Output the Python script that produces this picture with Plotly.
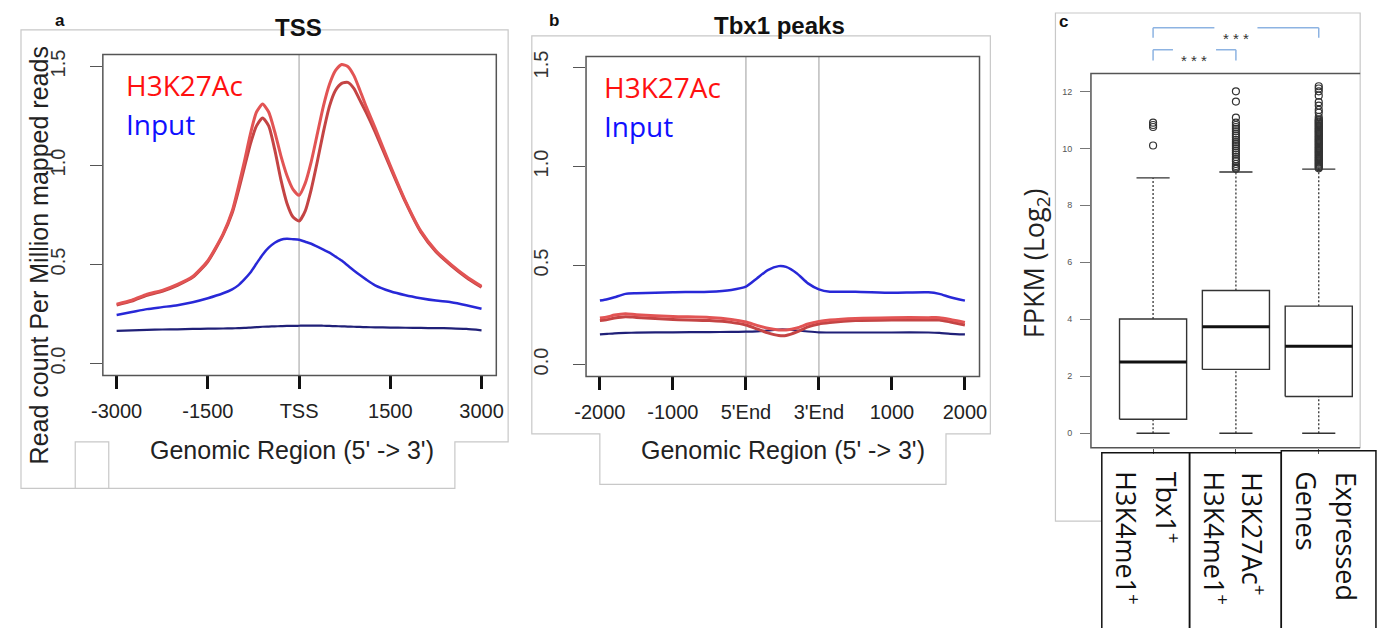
import plotly.graph_objects as go

# page body keeps its default 8px margin, so the figure is 16px smaller than the window
OFF = 8
FW, FH = 1387 - 2 * OFF, 636 - 2 * OFF


def X(px):
    return (px - OFF) / FW


def Y(py):
    return 1 - (py - OFF) / FH


# ---------------- Panel a : TSS ----------------
tss_x = [-3000, -2750, -2500, -2250, -2000, -1750, -1500, -1250, -1100, -1000,
         -900, -800, -700, -600, -500, -400, -300, -200, -100, 0,
         100, 200, 300, 400, 500, 600, 700, 800, 900, 1000,
         1100, 1250, 1500, 1750, 2000, 2250, 2500, 2750, 3000]
tss_h3k27ac_rep1 = [0.30, 0.32, 0.35, 0.37, 0.40, 0.44, 0.52, 0.655, 0.77, 0.89,
                    1.02, 1.16, 1.27, 1.31, 1.27, 1.17, 1.05, 0.95, 0.88, 0.85,
                    0.91, 1.02, 1.16, 1.30, 1.41, 1.48, 1.51, 1.50, 1.455, 1.38,
                    1.30, 1.19, 1.00, 0.82, 0.67, 0.57, 0.50, 0.44, 0.39]
tss_h3k27ac_rep2 = [0.295, 0.315, 0.345, 0.365, 0.395, 0.435, 0.515, 0.65, 0.76, 0.87,
                    0.99, 1.11, 1.20, 1.24, 1.20, 1.08, 0.93, 0.81, 0.74, 0.72,
                    0.77, 0.88, 1.02, 1.17, 1.30, 1.38, 1.415, 1.42, 1.39, 1.33,
                    1.27, 1.17, 0.99, 0.815, 0.665, 0.565, 0.495, 0.435, 0.385]
tss_input_rep1 = [0.245, 0.26, 0.275, 0.285, 0.295, 0.31, 0.33, 0.355, 0.375, 0.395,
                  0.425, 0.46, 0.505, 0.55, 0.585, 0.61, 0.625, 0.63, 0.628, 0.625,
                  0.615, 0.605, 0.59, 0.575, 0.56, 0.54, 0.52, 0.495, 0.47, 0.447,
                  0.425, 0.395, 0.365, 0.345, 0.33, 0.318, 0.31, 0.295, 0.277]
tss_input_rep2 = [0.165, 0.168, 0.17, 0.172, 0.173, 0.175, 0.176, 0.177, 0.178, 0.179,
                  0.18, 0.182, 0.184, 0.186, 0.187, 0.188, 0.189, 0.19, 0.19, 0.191,
                  0.192, 0.192, 0.192, 0.191, 0.19, 0.189, 0.188, 0.187, 0.186, 0.185,
                  0.184, 0.183, 0.182, 0.181, 0.18, 0.179, 0.178, 0.175, 0.168]
tss_tickvals = [-3000, -1500, 0, 1500, 3000]
tss_ticktext = ["-3000", "-1500", "TSS", "1500", "3000"]

# ---------------- Panel b : Tbx1 peaks ----------------
# position index: 0=-2000, 1=-1000, 2=5'End, 3=3'End, 4=1000, 5=2000
peak_x = [0, 0.1, 0.2, 0.35, 0.5, 1.0, 1.5, 1.8, 2.0, 2.15, 2.3, 2.45,
          2.55, 2.7, 2.85, 3.0, 3.15, 3.5, 4.0, 4.5, 4.65, 4.8, 5.0]
peak_input_rep1 = [0.323, 0.33, 0.34, 0.357, 0.36, 0.365, 0.368, 0.377, 0.393, 0.435, 0.477, 0.497,
                   0.493, 0.46, 0.41, 0.38, 0.368, 0.368, 0.363, 0.365, 0.357, 0.34, 0.323]
peak_h3k27ac_rep1 = [0.235, 0.24, 0.25, 0.257, 0.252, 0.243, 0.238, 0.228, 0.215, 0.198, 0.183, 0.175,
                     0.175, 0.185, 0.205, 0.218, 0.225, 0.233, 0.237, 0.237, 0.237, 0.228, 0.213]
peak_h3k27ac_rep2 = [0.222, 0.227, 0.235, 0.242, 0.238, 0.228, 0.222, 0.213, 0.200, 0.180, 0.160, 0.147,
                     0.147, 0.165, 0.19, 0.205, 0.212, 0.222, 0.225, 0.225, 0.225, 0.215, 0.200]
peak_input_rep2 = [0.152, 0.155, 0.158, 0.16, 0.161, 0.163, 0.164, 0.165, 0.166, 0.168, 0.172, 0.177,
                   0.177, 0.172, 0.167, 0.163, 0.162, 0.162, 0.162, 0.162, 0.16, 0.155, 0.152]
peak_tickvals = [0, 1, 2, 3, 4, 5]
peak_ticktext = ["-2000", "-1000", "5'End", "3'End", "1000", "2000"]

# ---------------- Panel c : boxplots ----------------
box_pos = [1, 2, 3]
box_lower = [0.0, 0.0, 0.0]
box_q1 = [0.49, 2.24, 1.29]
box_median = [2.50, 3.74, 3.05]
box_q3 = [4.01, 5.01, 4.46]
box_upper = [8.96, 9.17, 9.27]
outliers_1 = [10.1, 10.75, 10.82, 10.9]
outliers_2 = [9.28, 9.33, 9.38, 9.45, 9.55, 9.62, 9.7, 9.78, 9.85, 9.92, 10.0, 10.08,
              10.15, 10.22, 10.3, 10.38, 10.45, 10.52, 10.6, 10.68, 10.75, 10.82, 10.9,
              11.08, 11.64, 12.0]
outliers_3 = [9.3, 9.34, 9.38, 9.42, 9.46, 9.5, 9.54, 9.58, 9.62, 9.66, 9.7, 9.74, 9.78,
              9.82, 9.86, 9.9, 9.94, 9.98, 10.02, 10.06, 10.1, 10.14, 10.18, 10.22, 10.26,
              10.3, 10.34, 10.38, 10.42, 10.46, 10.5, 10.54, 10.58, 10.62, 10.66, 10.7,
              10.74, 10.78, 10.82, 10.86, 10.9, 10.94, 10.98, 11.02, 11.1, 11.25, 11.35,
              11.5, 11.62, 11.85, 12.0, 12.1, 12.18]
box_outliers = [outliers_1, outliers_2, outliers_3]
fpkm_ticks = [0, 2, 4, 6, 8, 10, 12]

RED1 = "rgb(226,84,84)"
RED2 = "rgb(196,68,68)"
BLUE = "rgb(40,40,215)"
NAVY = "rgb(32,32,120)"
RFONT = "Liberation Sans"
CFONT = "Open Sans"

fig = go.Figure()


def curve(x, y, color, width, xa, ya):
    fig.add_trace(go.Scatter(x=x, y=y, mode="lines",
                             line=dict(color=color, width=width, shape="spline", smoothing=0.6),
                             xaxis=xa, yaxis=ya, showlegend=False, hoverinfo="skip"))


curve(tss_x, tss_input_rep2, NAVY, 2.2, "x", "y")
curve(tss_x, tss_input_rep1, BLUE, 2.5, "x", "y")
curve(tss_x, tss_h3k27ac_rep2, RED2, 3, "x", "y")
curve(tss_x, tss_h3k27ac_rep1, RED1, 3, "x", "y")

curve(peak_x, peak_input_rep2, NAVY, 2.2, "x2", "y2")
curve(peak_x, peak_input_rep1, BLUE, 2.5, "x2", "y2")
curve(peak_x, peak_h3k27ac_rep2, RED2, 3, "x2", "y2")
curve(peak_x, peak_h3k27ac_rep1, RED1, 3, "x2", "y2")

# boxplots
bw = 0.405
cw = 0.2
for i, k in enumerate(box_pos):
    fig.add_trace(go.Scatter(x=[k, k], y=[box_q3[i], box_upper[i]], mode="lines",
                             line=dict(color="#333", width=1.3, dash="2px,2px"),
                             xaxis="x3", yaxis="y3", showlegend=False, hoverinfo="skip"))
    fig.add_trace(go.Scatter(x=[k, k], y=[box_lower[i], box_q1[i]], mode="lines",
                             line=dict(color="#333", width=1.3, dash="2px,2px"),
                             xaxis="x3", yaxis="y3", showlegend=False, hoverinfo="skip"))
    for v in (box_upper[i], box_lower[i]):
        fig.add_trace(go.Scatter(x=[k - cw, k + cw], y=[v, v], mode="lines",
                                 line=dict(color="#333", width=1.3),
                                 xaxis="x3", yaxis="y3", showlegend=False, hoverinfo="skip"))
    fig.add_trace(go.Scatter(x=[k - bw, k + bw, k + bw, k - bw, k - bw],
                             y=[box_q1[i], box_q1[i], box_q3[i], box_q3[i], box_q1[i]],
                             mode="lines", fill="toself", fillcolor="white",
                             line=dict(color="#333", width=1.4),
                             xaxis="x3", yaxis="y3", showlegend=False, hoverinfo="skip"))
    fig.add_trace(go.Scatter(x=[k - bw, k + bw], y=[box_median[i], box_median[i]], mode="lines",
                             line=dict(color="#111", width=3),
                             xaxis="x3", yaxis="y3", showlegend=False, hoverinfo="skip"))
    fig.add_trace(go.Scatter(x=[k] * len(box_outliers[i]), y=box_outliers[i], mode="markers",
                             marker=dict(symbol="circle-open", size=7, color="#333", line=dict(width=1.2)),
                             xaxis="x3", yaxis="y3", showlegend=False, hoverinfo="skip"))

axis_common = dict(showgrid=False, zeroline=False, showline=False, ticks="outside")

fig.update_layout(
    width=FW, height=FH, margin=dict(l=0, r=0, t=0, b=0),
    paper_bgcolor="white", plot_bgcolor="white", showlegend=False,
    xaxis=dict(domain=[X(92), X(491)], range=[-3227, 3243], anchor="y",
               tickvals=tss_tickvals, ticktext=tss_ticktext, ticklen=13, tickwidth=2.5, tickcolor="#111",
               tickfont=dict(family=RFONT, size=20, color="#222"), ticklabelstandoff=5, **axis_common),
    yaxis=dict(domain=[Y(373), Y(49)], range=[-0.06, 1.56], anchor="x",
               tickvals=[0, 0.5, 1.0, 1.5], ticktext=["0.0", "0.5", "1.0", "1.5"], tickangle=-90,
               ticklen=12, tickwidth=1.2, tickcolor="#555",
               tickfont=dict(family=RFONT, size=20, color="#333"), ticklabelstandoff=17, **axis_common),
    xaxis2=dict(domain=[X(582), X(981)], range=[-0.19, 5.20], anchor="y2",
                tickvals=peak_tickvals, ticktext=peak_ticktext, ticklen=13, tickwidth=2.5, tickcolor="#111",
                tickfont=dict(family=RFONT, size=20, color="#222"), ticklabelstandoff=5, **axis_common),
    yaxis2=dict(domain=[Y(374), Y(51)], range=[-0.06, 1.555], anchor="x2",
                tickvals=[0, 0.5, 1.0, 1.5], ticktext=["0.0", "0.5", "1.0", "1.5"], tickangle=-90,
                ticklen=12, tickwidth=1.2, tickcolor="#555",
                tickfont=dict(family=RFONT, size=20, color="#333"), ticklabelstandoff=17, **axis_common),
    xaxis3=dict(domain=[X(1094), X(1367)], range=[0.25, 3.5], anchor="y3",
                tickvals=box_pos, showticklabels=False, ticklen=5, tickwidth=1.2, tickcolor="#555",
                **axis_common),
    yaxis3=dict(domain=[Y(446), Y(68)], range=[-0.51, 12.63], anchor="x3",
                tickvals=fpkm_ticks, ticklen=10, tickwidth=1.2, tickcolor="#777",
                tickfont=dict(family=RFONT, size=9, color="#555"), ticklabelstandoff=6, **axis_common),
)

shapes = []
LG = "#c8c8c8"


def path(d, color, width):
    shapes.append(dict(type="path", xref="paper", yref="paper", path=d,
                       line=dict(color=color, width=width), fillcolor="rgba(0,0,0,0)", layer="above"))


def P(pts, close=False):
    s = "M " + " L ".join(f"{X(a):.5f},{Y(b):.5f}" for a, b in pts)
    return s + (" Z" if close else "")


# light figure frames
path(P([(9, 24), (503, 24), (503, 440), (449, 440), (449, 487), (9, 487)], True), LG, 1.2)
path(P([(64, 487), (64, 440), (98, 440), (98, 487)]), LG, 1.2)
path(P([(527, 30), (992, 30), (992, 432), (947, 432), (947, 483), (596, 483), (596, 432), (527, 432)], True), LG, 1.2)
path(P([(1105, 520), (1058, 520), (1058, 7), (1367, 7), (1367, 446)]), LG, 1.2)

# plot boxes
path(P([(92, 49), (491, 49), (491, 373), (92, 373)], True), "#555", 1.5)
path(P([(582, 51), (981, 51), (981, 374), (582, 374)], True), "#555", 1.5)
path(P([(1367, 68), (1094, 68), (1094, 446), (1367, 446)]), "#555", 1.5)

# category label boxes
path(P([(1105, 451), (1194, 451), (1194, 640), (1105, 640)], True), "#111", 1.5)
path(P([(1194, 451), (1287, 451), (1287, 640), (1194, 640)], True), "#111", 1.5)
path(P([(1287, 449), (1383, 449), (1383, 640), (1287, 640)], True), "#111", 1.5)

# reference vertical lines
shapes.append(dict(type="line", xref="x", yref="y domain", x0=0, x1=0, y0=0, y1=1,
                   line=dict(color="#bdbdbd", width=1.5), layer="below"))
for v in (2, 3):
    shapes.append(dict(type="line", xref="x2", yref="y2 domain", x0=v, x1=v, y0=0, y1=1,
                       line=dict(color="#bdbdbd", width=1.5), layer="below"))

# significance brackets
BR = "#8db3e2"


def bracket(a, b, top_py, bot_py, gap):
    mid = (a + b) / 2
    for (x0, y0, x1, y1) in [(a, bot_py, a, top_py), (a, top_py, mid - gap, top_py),
                             (mid + gap, top_py, b, top_py), (b, top_py, b, bot_py)]:
        shapes.append(dict(type="line", xref="x3", yref="paper", x0=x0, x1=x1, y0=Y(y0), y1=Y(y1),
                           line=dict(color=BR, width=1.5)))


bracket(box_pos[0], box_pos[2], 22, 32, 0.26)
bracket(box_pos[0], box_pos[1], 44, 55, 0.26)

fig.update_layout(shapes=shapes)

ann = []


def text(px, py, s, size, color="#111", family=RFONT, bold=False, angle=0, xanchor="center", yanchor="middle"):
    ann.append(dict(xref="paper", yref="paper", x=X(px), y=Y(py), text=f"<b>{s}</b>" if bold else s,
                    showarrow=False, textangle=angle, xanchor=xanchor, yanchor=yanchor,
                    font=dict(family=family, size=size, color=color)))


text(49, 15, "a", 17, bold=True)
text(549, 15, "b", 17, bold=True)
text(1066, 16, "c", 17, bold=True)
text(290, 22, "TSS", 24, bold=True)
text(778, 20, "Tbx1 peaks", 24, bold=True)

text(27, 252, "Read count Per Million mapped reads", 25, color="#222", angle=-90)
text(284, 448, "Genomic Region (5' -> 3')", 25, color="#222")
text(782, 448, "Genomic Region (5' -> 3')", 25, color="#222")

text(113, 80, "H3K27Ac", 28, color="#ff1010", family=CFONT, xanchor="left")
text(113, 119, "Input", 28, color="#1010ff", family=CFONT, xanchor="left")
text(598, 82, "H3K27Ac", 28, color="#ff1010", family=CFONT, xanchor="left")
text(598, 121, "Input", 28, color="#1010ff", family=CFONT, xanchor="left")

text(1038, 260, "FPKM (Log<sub>2</sub>)", 27, color="#222", family=CFONT, angle=-90)

# category labels (rotated)
text(1172, 468, "Tbx1<sup>+</sup>", 27, family=CFONT, angle=90, yanchor="top")
text(1131, 468, "H3K4me1<sup>+</sup>", 27, family=CFONT, angle=90, yanchor="top")
text(1259, 468, "H3K27Ac<sup>+</sup>", 27, family=CFONT, angle=90, yanchor="top")
text(1221, 468, "H3K4me1<sup>+</sup>", 27, family=CFONT, angle=90, yanchor="top")
text(1354, 468, "Expressed", 27, family=CFONT, angle=90, yanchor="top")
text(1313, 468, "Genes", 27, family=CFONT, angle=90, yanchor="top")

# stars
ann.append(dict(xref="x3", yref="paper", x=(box_pos[0] + box_pos[2]) / 2, y=Y(22), text="* * *",
                showarrow=False, font=dict(family=RFONT, size=15, color="#333")))
ann.append(dict(xref="x3", yref="paper", x=(box_pos[0] + box_pos[1]) / 2, y=Y(44), text="* * *",
                showarrow=False, font=dict(family=RFONT, size=15, color="#333")))

fig.update_layout(annotations=ann)

fig.write_html("out.html", config={"displayModeBar": False})
